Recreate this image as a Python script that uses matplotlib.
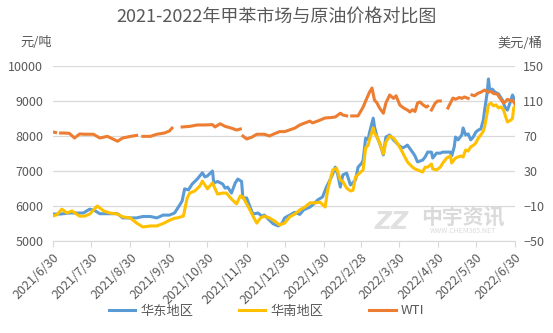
import matplotlib
matplotlib.use("Agg")
import matplotlib.pyplot as plt
import matplotlib.dates as mdates
import pandas as pd
import numpy as np

plt.rcParams['font.family'] = ['Noto Sans CJK SC', 'DejaVu Sans']

# ---------------- data ----------------
east_dates = [
    "2021-06-30", "2021-07-06", "2021-07-13", "2021-07-24", "2021-07-29", "2021-08-02", "2021-08-06",
    "2021-08-20", "2021-08-24", "2021-09-04", "2021-09-09", "2021-09-15", "2021-09-20", "2021-09-25",
    "2021-09-30", "2021-10-04", "2021-10-06", "2021-10-10", "2021-10-12", "2021-10-15", "2021-10-18",
    "2021-10-22", "2021-10-26", "2021-10-28", "2021-10-30", "2021-11-03", "2021-11-04", "2021-11-07",
    "2021-11-11", "2021-11-13", "2021-11-15", "2021-11-18", "2021-11-21", "2021-11-23", "2021-11-26",
    "2021-11-27", "2021-11-30", "2021-12-03", "2021-12-05", "2021-12-09", "2021-12-12", "2021-12-14",
    "2021-12-17", "2021-12-21", "2021-12-25", "2021-12-28", "2021-12-30", "2022-01-03", "2022-01-07",
    "2022-01-11", "2022-01-14", "2022-01-19", "2022-01-23", "2022-01-25", "2022-01-29", "2022-02-01",
    "2022-02-05", "2022-02-08", "2022-02-10", "2022-02-12", "2022-02-14", "2022-02-17", "2022-02-20",
    "2022-02-24", "2022-02-26", "2022-03-01", "2022-03-02", "2022-03-04", "2022-03-06", "2022-03-07",
    "2022-03-10", "2022-03-11", "2022-03-13", "2022-03-15", "2022-03-18", "2022-03-20", "2022-03-23",
    "2022-03-26", "2022-03-30", "2022-04-02", "2022-04-04", "2022-04-06", "2022-04-10", "2022-04-12",
    "2022-04-14", "2022-04-18", "2022-04-20", "2022-04-22", "2022-04-25", "2022-04-26", "2022-04-29",
    "2022-05-02", "2022-05-04", "2022-05-07", "2022-05-10", "2022-05-11", "2022-05-13", "2022-05-14",
    "2022-05-16", "2022-05-19", "2022-05-20", "2022-05-22", "2022-05-24", "2022-05-26", "2022-05-28",
    "2022-05-30", "2022-06-01", "2022-06-03", "2022-06-05", "2022-06-06", "2022-06-08", "2022-06-09",
    "2022-06-10", "2022-06-12", "2022-06-14", "2022-06-17", "2022-06-20", "2022-06-22", "2022-06-24",
    "2022-06-26", "2022-06-28", "2022-06-29", "2022-06-30",
]
east_values = [
    5770, 5770, 5800, 5800, 5910, 5870, 5780,
    5780, 5660, 5660, 5700, 5700, 5660, 5740,
    5740, 5800, 5910, 6140, 6490, 6460, 6630,
    6770, 6950, 6830, 6860, 7000, 6660, 6700,
    6630, 6510, 6540, 6370, 6660, 6770, 6700,
    6230, 6230, 5940, 5770, 5800, 5710, 5740,
    5630, 5490, 5430, 5510, 5660, 5740, 5820,
    5760, 5890, 5970, 6090, 6170, 6260, 6540,
    6830, 7110, 6890, 6540, 6890, 6940, 6600,
    6740, 7110, 7230, 7310, 7940, 7900, 8090,
    8510, 8260, 7970, 7800, 7460, 7970, 8030,
    7890, 7740, 7660, 7690, 7740, 7540, 7430,
    7260, 7310, 7400, 7540, 7540, 7370, 7510,
    7510, 7540, 7540, 7540, 7430, 7690, 7970,
    7890, 8030, 8230, 8030, 8060, 7890, 7970,
    8110, 8170, 8200, 8460, 8740, 9230, 9630,
    9310, 9340, 9260, 9200, 9030, 8830, 8740,
    8940, 9170, 9090, 8990,
]

south_dates = [
    "2021-06-30", "2021-07-03", "2021-07-07", "2021-07-11", "2021-07-15", "2021-07-21", "2021-07-25",
    "2021-07-29", "2021-08-04", "2021-08-09", "2021-08-14", "2021-08-20", "2021-08-24", "2021-08-30",
    "2021-09-04", "2021-09-09", "2021-09-15", "2021-09-20", "2021-09-25", "2021-09-30", "2021-10-04",
    "2021-10-06", "2021-10-11", "2021-10-14", "2021-10-16", "2021-10-20", "2021-10-24", "2021-10-26",
    "2021-10-30", "2021-11-03", "2021-11-07", "2021-11-11", "2021-11-14", "2021-11-18", "2021-11-22",
    "2021-11-25", "2021-11-27", "2021-11-30", "2021-12-03", "2021-12-05", "2021-12-08", "2021-12-11",
    "2021-12-14", "2021-12-18", "2021-12-22", "2021-12-26", "2021-12-30", "2022-01-03", "2022-01-07",
    "2022-01-11", "2022-01-15", "2022-01-19", "2022-01-23", "2022-01-27", "2022-01-31", "2022-02-02",
    "2022-02-06", "2022-02-09", "2022-02-12", "2022-02-14", "2022-02-17", "2022-02-20", "2022-02-22",
    "2022-02-24", "2022-02-28", "2022-03-02", "2022-03-04", "2022-03-06", "2022-03-07", "2022-03-10",
    "2022-03-11", "2022-03-13", "2022-03-15", "2022-03-18", "2022-03-20", "2022-03-23", "2022-03-26",
    "2022-03-30", "2022-04-02", "2022-04-04", "2022-04-06", "2022-04-10", "2022-04-12", "2022-04-14",
    "2022-04-18", "2022-04-20", "2022-04-22", "2022-04-25", "2022-04-26", "2022-04-29", "2022-05-02",
    "2022-05-04", "2022-05-07", "2022-05-10", "2022-05-11", "2022-05-14", "2022-05-16", "2022-05-18",
    "2022-05-20", "2022-05-22", "2022-05-24", "2022-05-26", "2022-05-28", "2022-05-30", "2022-06-01",
    "2022-06-03", "2022-06-05", "2022-06-06", "2022-06-08", "2022-06-09", "2022-06-11", "2022-06-13",
    "2022-06-15", "2022-06-17", "2022-06-19", "2022-06-21", "2022-06-23", "2022-06-24", "2022-06-27",
    "2022-06-28", "2022-06-29", "2022-06-30",
]
south_values = [
    5714, 5750, 5910, 5800, 5860, 5710, 5710,
    5770, 6000, 5860, 5800, 5770, 5690, 5660,
    5514, 5400, 5430, 5430, 5500, 5590, 5650,
    5660, 5710, 6230, 6370, 6430, 6570, 6710,
    6490, 6660, 6340, 6370, 6370, 6200, 6060,
    6290, 6260, 6060, 5860, 5710, 5510, 5660,
    5710, 5660, 5570, 5460, 5510, 5690, 5770,
    5890, 5970, 6090, 6090, 6110, 5970, 6460,
    7030, 7080, 6740, 6700, 6510, 6430, 6450,
    6830, 6970, 7030, 7660, 7740, 7890, 8230,
    8090, 7970, 7800, 7490, 7830, 8000, 7940,
    7740, 7540, 7400, 7260, 7110, 7060, 7030,
    6970, 7110, 7110, 7200, 7060, 7030, 7110,
    7230, 7370, 7430, 7230, 7370, 7400, 7430,
    7400, 7600, 7570, 7690, 7730, 7800, 7940,
    8030, 8140, 8260, 8660, 8890, 8940, 8860,
    8890, 8800, 8830, 8740, 8510, 8400, 8460,
    8510, 8800, 8850,
]

wti_dates = [
    "2021-06-30", "2021-07-02", "2021-07-03", "2021-07-06", "2021-07-09", "2021-07-13", "2021-07-17",
    "2021-07-21", "2021-07-25", "2021-07-29", "2021-08-01", "2021-08-06", "2021-08-12", "2021-08-18",
    "2021-08-20", "2021-08-24", "2021-08-30", "2021-09-04", "2021-09-07", "2021-09-09", "2021-09-15",
    "2021-09-20", "2021-09-26", "2021-09-30", "2021-10-02", "2021-10-05", "2021-10-10", "2021-10-16",
    "2021-10-22", "2021-10-28", "2021-11-03", "2021-11-05", "2021-11-09", "2021-11-13", "2021-11-18",
    "2021-11-22", "2021-11-25", "2021-11-26", "2021-11-27", "2021-11-30", "2021-12-04", "2021-12-08",
    "2021-12-14", "2021-12-18", "2021-12-21", "2021-12-26", "2021-12-30", "2022-01-03", "2022-01-07",
    "2022-01-11", "2022-01-15", "2022-01-19", "2022-01-21", "2022-01-25", "2022-01-31", "2022-02-04",
    "2022-02-08", "2022-02-12", "2022-02-14", "2022-02-17", "2022-02-20", "2022-02-21", "2022-02-26",
    "2022-03-02", "2022-03-04", "2022-03-07", "2022-03-09", "2022-03-11", "2022-03-13", "2022-03-15",
    "2022-03-18", "2022-03-20", "2022-03-23", "2022-03-26", "2022-03-28", "2022-03-31", "2022-04-03",
    "2022-04-06", "2022-04-08", "2022-04-10", "2022-04-12", "2022-04-14", "2022-04-16", "2022-04-18",
    "2022-04-21", "2022-04-22", "2022-04-24", "2022-04-25", "2022-04-28", "2022-04-30", "2022-05-02",
    "2022-05-05", "2022-05-08", "2022-05-10", "2022-05-12", "2022-05-14", "2022-05-17", "2022-05-19",
    "2022-05-21", "2022-05-24", "2022-05-25", "2022-05-27", "2022-05-29", "2022-06-01", "2022-06-03",
    "2022-06-06", "2022-06-09", "2022-06-11", "2022-06-13", "2022-06-16", "2022-06-18", "2022-06-21",
    "2022-06-23", "2022-06-24", "2022-06-27", "2022-06-28", "2022-06-30",
]
wti_values = [
    74.6, 74.0, None, 73.4, 73.4, 73.0, 67.7,
    72.3, 72.0, 72.0, 72.0, 67.7, 69.6, 65.4,
    64.0, 67.7, 69.5, 70.7, None, 69.6, 69.6,
    72.0, 73.4, 75.7, 79.0, None, 80.3, 81.0,
    82.6, 82.6, 83.0, 80.3, 84.0, 81.0, 79.0,
    76.8, 78.0, None, 70.0, 66.6, 68.6, 72.0,
    72.0, 70.0, 72.0, 75.0, 75.0, 77.0, 79.0,
    82.6, 84.9, 87.0, 85.0, 87.0, 90.6, 91.0,
    91.7, 96.0, 94.0, 93.0, None, 92.9, 93.0,
    103.0, 110.0, 120.0, 124.8, 111.0, 107.7, 102.0,
    96.0, 107.7, 116.9, 113.0, 116.0, 105.4, 102.0,
    99.7, 97.4, 100.0, 98.0, 107.7, 108.9, 106.0,
    103.0, 104.0, None, 99.7, 107.7, 110.0, 110.0,
    None, 102.0, 107.7, 113.4, 112.0, 114.0, 113.0,
    114.6, 113.0, None, 116.9, 116.0, 119.0, 120.0,
    122.5, 120.0, 121.0, 118.5, 118.0, 113.4, 107.7,
    110.0, 112.0, 110.0, 111.0, 106.6,
]

tick_dates = ["2021-06-30", "2021-07-30", "2021-08-30", "2021-09-30", "2021-10-30", "2021-11-30",
              "2021-12-30", "2022-01-30", "2022-02-28", "2022-03-30", "2022-04-30", "2022-05-30",
              "2022-06-30"]
tick_labels = ["2021/6/30", "2021/7/30", "2021/8/30", "2021/9/30", "2021/10/30", "2021/11/30",
               "2021/12/30", "2022/1/30", "2022/2/28", "2022/3/30", "2022/4/30", "2022/5/30",
               "2022/6/30"]
left_ticks = [5000, 6000, 7000, 8000, 9000, 10000]
right_ticks = [-50, -10, 30, 70, 110, 150]

series_names = ["华东地区", "华南地区", "WTI"]
title = "2021-2022年甲苯市场与原油价格对比图"

# ---------------- drawing ----------------
TXT = "#595959"
GRID = "#D9D9D9"
C_EAST = "#5B9BD5"
C_SOUTH = "#FFC000"
C_WTI = "#ED7D31"

fig = plt.figure(figsize=(5.53, 3.33), dpi=100)
ax = fig.add_axes([53 / 553, 1 - 241 / 333, (515 - 53) / 553, (241 - 66) / 333])
ax2 = ax.twinx()

ed = pd.to_datetime(east_dates)
sd = pd.to_datetime(south_dates)
wd = pd.to_datetime(wti_dates)
wv = np.array([np.nan if v is None else v for v in wti_values], dtype=float)

l1, = ax.plot(ed, east_values, color=C_EAST, lw=2.2, solid_joinstyle='round', zorder=3)
l2, = ax.plot(sd, south_values, color=C_SOUTH, lw=2.2, solid_joinstyle='round', zorder=4)
l3, = ax2.plot(wd, wv, color=C_WTI, lw=2.2, solid_joinstyle='round', zorder=3)

ax.set_xlim(pd.Timestamp(tick_dates[0]), pd.Timestamp(tick_dates[-1]))
ax.set_ylim(left_ticks[0], left_ticks[-1])
ax2.set_ylim(right_ticks[0], right_ticks[-1])
ax.set_yticks(left_ticks)
ax2.set_yticks(right_ticks)
ax.set_xticks(pd.to_datetime(tick_dates))
ax.set_xticklabels(tick_labels, rotation=45, ha='right', va='top', rotation_mode='anchor')

ax.grid(axis='y', color=GRID, lw=0.9)
ax.set_axisbelow(True)
for a in (ax, ax2):
    for s in ('top', 'left', 'right'):
        a.spines[s].set_visible(False)
    a.spines['bottom'].set_color(GRID)
ax2.spines['bottom'].set_visible(False)

ax.tick_params(axis='y', length=0, labelsize=9, labelcolor=TXT, pad=7)
ax2.tick_params(axis='y', length=0, labelsize=9, labelcolor=TXT, pad=6)
ax.tick_params(axis='x', length=4, color=GRID, labelsize=9, labelcolor=TXT, pad=3)

fig.text(0.5, 1 - 18 / 333, title, ha='center', va='center', fontsize=13, color=TXT)
fig.text(20 / 553, 1 - 43 / 333, "元/吨", ha='left', va='center', fontsize=9.5, color=TXT)
fig.text(542 / 553, 1 - 43 / 333, "美元/桶", ha='right', va='center', fontsize=9.5, color=TXT)

# watermark
fig.text(463 / 553, 1 - 218 / 333, "中宇资讯", ha='center', va='center', fontsize=15,
         fontweight='bold', color="#DADADA", zorder=0)
fig.text(463 / 553, 1 - 231 / 333, "WWW.CHEM365.NET", ha='center', va='center', fontsize=5,
         color="#DADADA", zorder=0)
fig.text(392 / 553, 1 - 222 / 333, "ZZ", ha='center', va='center', fontsize=17,
         fontweight='bold', style='italic', color="#E0E0E0", zorder=0, family='DejaVu Sans')

fig.legend([l1, l2, l3], series_names, loc='center', bbox_to_anchor=(0.482, 1 - 311 / 333),
           ncol=3, frameon=False, fontsize=9.5, labelcolor=TXT, handlelength=2.0,
           handletextpad=0.4, columnspacing=3.45)

fig.savefig("out.png", dpi=100)
